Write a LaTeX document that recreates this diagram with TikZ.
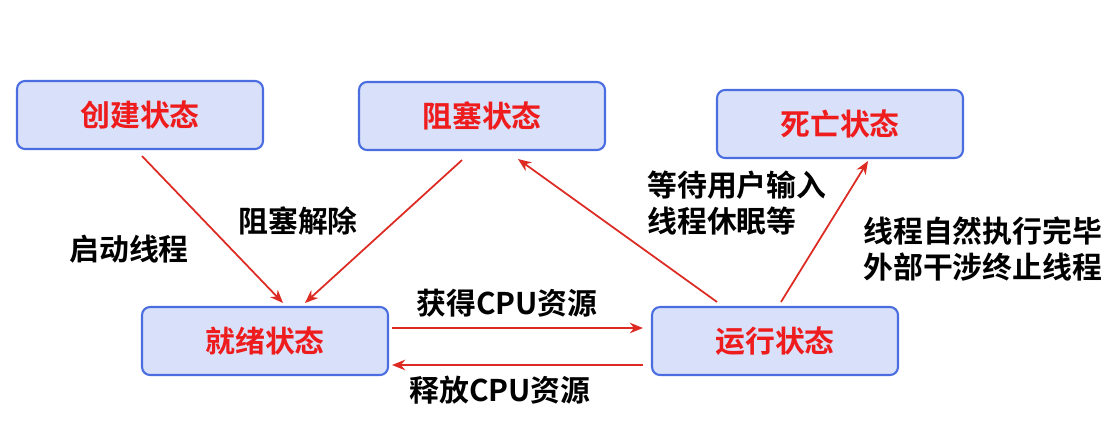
\documentclass[tikz,border=0pt]{standalone}
\usepackage{fontspec}
\newfontfamily\cjkbold{Noto Sans CJK SC Bold}
\usetikzlibrary{calc,arrows.meta}
\definecolor{boxfill}{HTML}{D9E0FA}
\definecolor{boxline}{HTML}{4A6EE0}
\definecolor{statered}{HTML}{EE1C1C}
\definecolor{arrred}{HTML}{DD2A22}
\tikzset{
	statebox/.style={draw=boxline, line width=1.2pt, fill=boxfill, rounded corners=0.16cm,
		minimum width=4.92cm, minimum height=1.36cm, text=statered,
		font=\cjkbold\fontsize{17}{20}\selectfont},
	arr/.style={draw=arrred, line width=1pt, -{Stealth[length=7.5pt,width=6pt]}},
	lbl/.style={font=\cjkbold\fontsize{17}{20.5}\selectfont, align=left, inner sep=0pt}
}

\begin{document}
\begin{tikzpicture}[x=0.02cm, y=-0.02cm]
			%%%%% START %%%%%
			\useasboundingbox[fill=white] (0, 0) rectangle (1111, 447);
			
			\node[statebox] (chuangjian) at (140, 115) {创建状态};
			\node[statebox] (zusai) at (482, 116) {阻塞状态};
			\node[statebox] (siwang) at (840, 124) {死亡状态};
			\node[statebox] (jiuxu) at (265, 341) {就绪状态};
			\node[statebox] (yunxing) at (775, 341) {运行状态};
			
			\draw[arr] ($(chuangjian.south)+(2, 6)$) -- ($(jiuxu.north)+(18, -3)$);
			\draw[arr] ($(zusai.south)+(-20, 9)$) -- ($(jiuxu.north)+(40, -3)$);
			\draw[arr] ($(jiuxu.east)+(3, -13)$) -- ($(yunxing.west)+(-8, -13)$);
			\draw[arr] ($(yunxing.west)+(-8, 24)$) -- ($(jiuxu.east)+(3, 24)$);
			\draw[arr] ($(yunxing.north)+(-58, -4)$) -- ($(zusai.south)+(36, 8)$);
			\draw[arr] ($(yunxing.north)+(6, -4)$) -- ($(siwang.south)+(28, 2)$);
			
			\node[lbl] (qidong) at (129, 249) {启动线程};
			\node[lbl] (jiechu) at (298, 221) {阻塞解除};
			\node[lbl] (huode) at (507, 303) {获得CPU资源};
			\node[lbl] (shifang) at (500, 390) {释放CPU资源};
			\node[lbl, anchor=west] (dengdai) at (647, 203) {等待用户输入\\线程休眠等};
			\node[lbl, anchor=west] (zhongzhi) at (863, 249) {线程自然执行完毕\\外部干涉终止线程};
			
			%%%%% END %%%%%
		\end{tikzpicture}
\end{document}
